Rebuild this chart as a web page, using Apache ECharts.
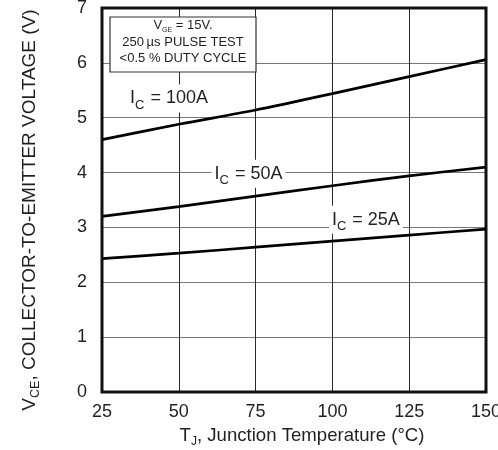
<!DOCTYPE html>
<html>
<head>
<meta charset="utf-8">
<script src="https://cdn.jsdelivr.net/npm/echarts@6/dist/echarts.min.js"></script>
<style>html,body{margin:0;padding:0;background:#fff;}#c{width:498px;height:450px;}</style>
</head>
<body>
<div id="c"></div>
<script>
// Junction temperature (°C)
const temps = [25, 50, 75, 100, 125, 150];
// VCE (V) for each collector current
const vce100A = [4.60, 4.88, 5.14, 5.44, 5.75, 6.06];
const vce50A  = [3.20, 3.38, 3.57, 3.76, 3.94, 4.10];
const vce25A  = [2.43, 2.53, 2.64, 2.75, 2.86, 2.97];
const seriesNames = ['100A', '50A', '25A'];

const FONT = '"Liberation Sans", Arial, sans-serif';
const TXT = '#231f20';

function pairs(xs, ys) { return xs.map((x, i) => [x, ys[i]]); }

function icLabel(name, coord) {
  return {
    silent: true,
    symbol: 'circle',
    symbolSize: 1,
    itemStyle: { color: 'rgba(0,0,0,0)' },
    data: [{
      coord: coord,
      label: {
        show: true,
        position: 'inside',
        formatter: '{m|I}{s|C}{m| = ' + name + '}',
        backgroundColor: '#fff',
        padding: [1, 3, 1, 3],
        rich: {
          m: { fontSize: 18, lineHeight: 26, color: TXT, fontFamily: FONT },
          s: { fontSize: 13, lineHeight: 13, color: TXT, fontFamily: FONT, verticalAlign: 'bottom', padding: [0, 1, 0, 0] }
        }
      }
    }]
  };
}

const chart = echarts.init(document.getElementById('c'), null, { renderer: 'canvas' });
chart.setOption({
  animation: false,
  backgroundColor: '#fff',
  grid: { left: 102, top: 8, width: 384, height: 384, show: true, borderColor: '#111', borderWidth: 3,
          backgroundColor: 'transparent', z: 3, containLabel: false, outerBoundsMode: 'none' },
  xAxis: {
    type: 'value', min: 25, max: 150, interval: 25,
    axisLine: { show: false }, axisTick: { show: false },
    splitLine: { show: true, lineStyle: { color: '#2a2a2a', width: 1 } },
    axisLabel: { fontSize: 18, color: TXT, fontFamily: FONT, margin: 11, hideOverlap: false },
    name: '{m|T}{s|J}{m|, Junction Temperature (°C)}',
    nameLocation: 'middle', nameGap: 31,
    nameTextStyle: {
      padding: [0, 0, 0, 16],
      rich: {
        m: { fontSize: 18.6, lineHeight: 24, color: TXT, fontFamily: FONT },
        s: { fontSize: 12, lineHeight: 12, color: TXT, fontFamily: FONT, verticalAlign: 'bottom' }
      }
    }
  },
  yAxis: {
    type: 'value', min: 0, max: 7, interval: 1,
    axisLine: { show: false }, axisTick: { show: false },
    splitLine: { show: true, lineStyle: { color: '#777', width: 1 } },
    axisLabel: { fontSize: 18, color: TXT, fontFamily: FONT, margin: 15, padding: [4, 0, 0, 0] },
    name: '{m|V}{s|CE}{m|, COLLECTOR-TO-EMITTER VOLTAGE (V)}',
    nameLocation: 'middle', nameRotate: 90, nameGap: 60,
    nameTextStyle: {
      padding: [0, 20, 0, 0],
      rich: {
        m: { fontSize: 19, lineHeight: 24, color: TXT, fontFamily: FONT },
        s: { fontSize: 12.5, lineHeight: 12, color: TXT, fontFamily: FONT, verticalAlign: 'bottom' }
      }
    }
  },
  series: [
    { name: seriesNames[0], type: 'line', data: pairs(temps, vce100A), symbol: 'none', smooth: 0.3,
      lineStyle: { color: '#000', width: 2.7 }, z: 4, markPoint: icLabel('100A', [46.8, 5.35]) },
    { name: seriesNames[1], type: 'line', data: pairs(temps, vce50A), symbol: 'none', smooth: 0.3,
      lineStyle: { color: '#000', width: 2.7 }, z: 4, markPoint: icLabel('50A', [72.7, 3.98]) },
    { name: seriesNames[2], type: 'line', data: pairs(temps, vce25A), symbol: 'none', smooth: 0.3,
      lineStyle: { color: '#000', width: 2.7 }, z: 4, markPoint: icLabel('25A', [110.9, 3.14]) }
  ],
  graphic: [
    { type: 'rect', z: 10, shape: { x: 110, y: 17, width: 146, height: 55 },
      style: { fill: '#fff', stroke: '#333', lineWidth: 1.2 } },
    { type: 'text', z: 11, x: 183, y: 17.5,
      style: {
        text: '{a|V}{g|GE}{a| = 15V.}\n{a|250\u2009µs PULSE TEST}\n{a|<0.5 % DUTY CYCLE}',
        align: 'center', verticalAlign: 'top',
        rich: {
          a: { fontSize: 13, lineHeight: 16.5, fill: TXT, fontFamily: FONT },
          g: { fontSize: 7, lineHeight: 8, fill: TXT, fontFamily: FONT, verticalAlign: 'bottom' }
        }
      }
    }
  ]
});
</script>
</body>
</html>
